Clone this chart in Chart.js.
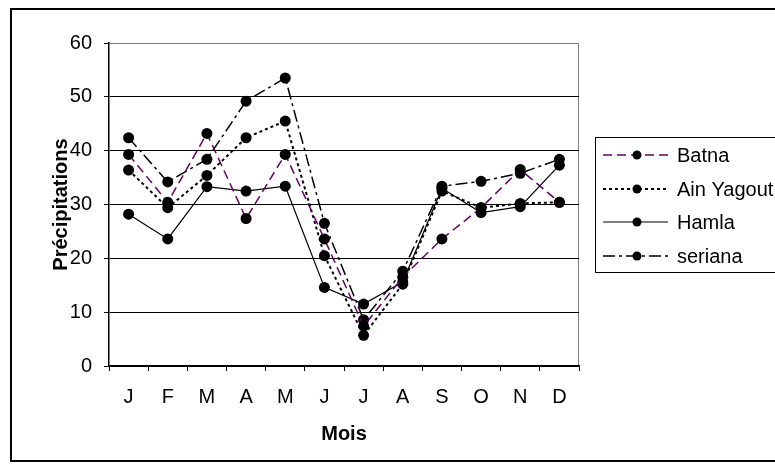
<!DOCTYPE html>
<html>
<head>
<meta charset="utf-8">
<script src="https://cdn.jsdelivr.net/npm/chart.js@4.4.1/dist/chart.umd.min.js"></script>
<style>
  html, body { margin: 0; padding: 0; background: #fff; }
  canvas { display: block; }
</style>
</head>
<body>
<canvas id="grafico" width="775" height="466"></canvas>
<script>
const mois = ['J', 'F', 'M', 'A', 'M', 'J', 'J', 'A', 'S', 'O', 'N', 'D'];
const batna = [39.3, 30.4, 43.2, 27.4, 39.3, 23.6, 7.4, 16.5, 23.6, 29.4, 36.5, 30.4];
const ainYagout = [36.4, 29.4, 35.4, 42.4, 45.5, 20.5, 5.7, 15.2, 32.5, 29.4, 30.2, 30.4];
const hamla = [28.2, 23.6, 33.3, 32.5, 33.4, 14.6, 11.5, 15.6, 33.0, 28.5, 29.6, 37.3];
const seriana = [42.4, 34.2, 38.4, 49.2, 53.5, 26.5, 8.6, 17.6, 33.4, 34.3, 35.8, 38.4];
const yTicks = [0, 10, 20, 30, 40, 50, 60];

const FONT = 'Liberation Sans, Arial, sans-serif';

// cadre exterieur + bord gris de la zone de tracé
const cadrePlugin = {
    id: 'cadre',
    beforeDraw(chart) {
        const ctx = chart.ctx;
        const a = chart.chartArea;
        ctx.save();
        ctx.fillStyle = '#fff';
        ctx.fillRect(0, 0, chart.width, chart.height);
        ctx.strokeStyle = '#000';
        ctx.lineWidth = 2;
        ctx.strokeRect(11, 9, chart.width + 20, 452);
        ctx.strokeStyle = '#808080';
        ctx.lineWidth = 1;
        ctx.beginPath();
        ctx.moveTo(a.left, a.top + 0.5);
        ctx.lineTo(a.right - 0.5, a.top + 0.5);
        ctx.lineTo(a.right - 0.5, a.bottom);
        ctx.stroke();
        ctx.restore();
    }
};

// légende façon Excel, avec le style de trait de chaque série
const legendePlugin = {
    id: 'legende',
    afterDraw(chart) {
        const ctx = chart.ctx;
        ctx.save();
        ctx.strokeStyle = '#000';
        ctx.lineWidth = 1;
        ctx.strokeRect(595.5, 137.5, 200, 135);
        const ys = [155, 189, 222, 256];
        chart.data.datasets.forEach((ds, i) => {
            const y = ys[i];
            ctx.strokeStyle = ds.borderColor;
            ctx.lineWidth = ds.borderWidth;
            ctx.setLineDash(ds.borderDash || []);
            ctx.beginPath();
            ctx.moveTo(603, y);
            ctx.lineTo(668, y);
            ctx.stroke();
            ctx.setLineDash([]);
            ctx.fillStyle = '#000';
            ctx.beginPath();
            ctx.arc(637, y, 4.5, 0, Math.PI * 2);
            ctx.fill();
            ctx.font = '20px ' + FONT;
            ctx.textBaseline = 'middle';
            ctx.fillText(ds.label, 677, y + 1);
        });
        ctx.restore();
    }
};

function serie(label, data, color, width, dash) {
    return {
        label: label,
        data: data,
        borderColor: color,
        borderWidth: width,
        borderDash: dash,
        pointRadius: 5.5,
        pointBackgroundColor: '#000',
        pointBorderColor: '#000',
        pointBorderWidth: 0,
        fill: false,
        tension: 0
    };
}

new Chart(document.getElementById('grafico').getContext('2d'), {
    type: 'line',
    data: {
        labels: mois,
        datasets: [
            serie('Batna', batna, '#660066', 1.5, [9, 5]),
            serie('Ain Yagout', ainYagout, '#000', 2, [3, 3]),
            serie('Hamla', hamla, '#000', 1.2, []),
            serie('seriana', seriana, '#000', 1.5, [12, 4, 3, 4])
        ]
    },
    options: {
        responsive: false,
        animation: false,
        devicePixelRatio: 1,
        layout: { padding: { top: 43, right: 196, bottom: 0, left: 0 } },
        plugins: {
            legend: { display: false },
            tooltip: { enabled: false }
        },
        scales: {
            x: {
                offset: true,
                afterFit: s => { s.height = 100; },
                grid: {
                    offset: true,
                    drawOnChartArea: false,
                    drawTicks: true,
                    tickLength: 5,
                    color: '#000',
                    lineWidth: 1
                },
                border: { color: '#000', width: 1.5 },
                ticks: {
                    color: '#000',
                    font: { family: FONT, size: 20 },
                    padding: 14,
                    maxRotation: 0,
                    autoSkip: false
                },
                title: {
                    display: true,
                    text: 'Mois',
                    color: '#000',
                    font: { family: FONT, size: 20, weight: 'bold' },
                    padding: { top: 0, bottom: 20 }
                }
            },
            y: {
                min: 0,
                max: 60,
                afterFit: s => { s.width = 109; },
                afterBuildTicks: s => { s.ticks = yTicks.map(v => ({ value: v })); },
                grid: {
                    color: ctx => (ctx.tick && ctx.tick.value === 60 ? '#808080' : '#000'),
                    lineWidth: 1,
                    drawTicks: true,
                    tickLength: 5,
                    tickColor: '#000'
                },
                border: { color: '#000', width: 1.5 },
                ticks: {
                    color: '#000',
                    font: { family: FONT, size: 20 },
                    padding: 12
                },
                title: {
                    display: true,
                    text: 'Précipitations',
                    color: '#000',
                    font: { family: FONT, size: 20, weight: 'bold' },
                    padding: { top: 49, bottom: 0 }
                }
            }
        }
    },
    plugins: [cadrePlugin, legendePlugin]
});
</script>
</body>
</html>
